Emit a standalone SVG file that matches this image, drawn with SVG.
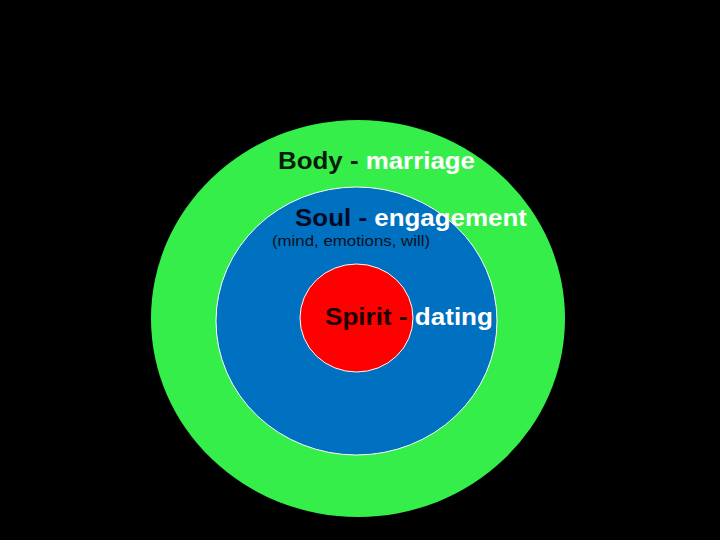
<svg xmlns="http://www.w3.org/2000/svg" width="720" height="540" viewBox="0 0 720 540">
<style>
.lbl{font-family:"Liberation Sans",Arial,sans-serif;font-weight:bold;font-size:24px}
.sm{font-family:"Liberation Sans",Arial,sans-serif;font-size:14px;fill:#0a1020}
.w{fill:#ffffff}
</style>
<rect width="720" height="540" fill="#000"/>
<g id="body">
<ellipse cx="358" cy="318.5" rx="207" ry="198.5" fill="#36ee4a"/>
<text class="lbl" x="278" y="169" textLength="197" lengthAdjust="spacingAndGlyphs"><tspan fill="#061a06">Body - </tspan><tspan class="w">marriage</tspan></text>
</g>
<g id="soul">
<ellipse cx="356.5" cy="321" rx="140.5" ry="134" fill="#0070c0" stroke="#ffffff" stroke-width="1"/>
<text class="lbl" x="295" y="226" textLength="232" lengthAdjust="spacingAndGlyphs"><tspan fill="#020a22">Soul - </tspan><tspan class="w">engagement</tspan></text>
<text class="sm" x="272" y="246" textLength="158" lengthAdjust="spacingAndGlyphs">(mind, emotions, will)</text>
</g>
<g id="spirit">
<ellipse cx="356.5" cy="318" rx="56.5" ry="54" fill="#ff0000" stroke="#ffffff" stroke-width="1"/>
<text class="lbl" x="325" y="325" textLength="168" lengthAdjust="spacingAndGlyphs"><tspan fill="#1a0000">Spirit - </tspan><tspan class="w">dating</tspan></text>
</g>
<g id="connectors"/>
</svg>
